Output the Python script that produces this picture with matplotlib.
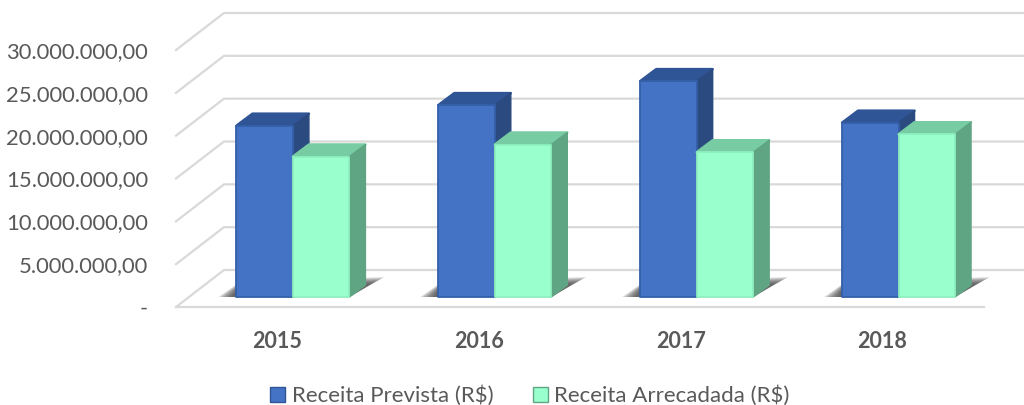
import matplotlib
matplotlib.use("Agg")
import matplotlib.pyplot as plt
from matplotlib.patches import Patch, Polygon

plt.rcParams["font.family"] = ["Lato", "DejaVu Sans"]

years = ["2015", "2016", "2017", "2018"]
prevista = [20000000, 22400000, 25200000, 20350000]
arrecadada = [16400000, 17800000, 16900000, 19000000]
y_ticks = [0, 5000000, 10000000, 15000000, 20000000, 25000000, 30000000]
y_tick_labels = ["-", "5.000.000,00", "10.000.000,00", "15.000.000,00",
                 "20.000.000,00", "25.000.000,00", "30.000.000,00"]
series_names = ["Receita Prevista (R$)", "Receita Arrecadada (R$)"]

W, H = 1024, 405
# front plane of the 3D box, in pixels
LEFT, RIGHT, FLOOR, TOP = 176, 983.5, 307, 50
DEPTH_X, DEPTH_Y = 48, 37

BLUE = ("#4472C4", "#2F5597", "#2A4A80", "#345FA8")
GREEN = ("#99FFCC", "#77CCA3", "#5FA583", "#8DF0BF")
GRID = "#D9D9D9"
TEXT = "#595959"

fig = plt.figure(figsize=(W / 100, H / 100), dpi=100)
ax = fig.add_axes([LEFT / W, 1 - FLOOR / H, (RIGHT - LEFT) / W, (FLOOR - TOP) / H])
ax.set_xlim(-0.5, 3.5)
ax.set_ylim(0, 30000000)
ax.patch.set_visible(False)
for s in ax.spines.values():
    s.set_visible(False)

px_x = 4 / (RIGHT - LEFT)  # data x per pixel
px_y = 30000000 / (FLOOR - TOP)  # data y per pixel


def shift(x, y, dx, dy):
    return (x + dx * px_x, y + dy * px_y)


# walls and floor grid
for v in y_ticks:
    x0, y0 = -0.5, v
    x1, y1 = shift(x0, y0, DEPTH_X, DEPTH_Y)
    ax.plot([x0, x1, 5.0], [y0, y1, y1], color=GRID, lw=1.6, clip_on=False,
            solid_joinstyle="miter", zorder=1)
ax.plot([-0.5, 3.5], [0, 0], color=GRID, lw=1.6, zorder=1, clip_on=False)


def draw_bar(x_left, width, value, cols, z):
    # front face sits slightly inside the box
    p0 = shift(x_left, 0, 16, 10)
    p1 = shift(x_left + width, 0, 16, 10)
    p2 = shift(x_left + width, value, 16, 10)
    p3 = shift(x_left, value, 16, 10)
    top = [p3, p2, shift(p2[0], p2[1], 16, 12), shift(p3[0], p3[1], 16, 12)]
    side = [p1, p2, shift(p2[0], p2[1], 16, 12), shift(p1[0], p1[1], 16, 12)]
    ax.add_patch(Polygon(top, closed=True, fc=cols[1], ec=cols[1], lw=1.8,
                         joinstyle="round", clip_on=False, zorder=z))
    ax.add_patch(Polygon(side, closed=True, fc=cols[2], ec=cols[2], lw=1.0,
                         joinstyle="round", clip_on=False, zorder=z))
    ax.add_patch(Polygon([p0, p1, p2, p3], closed=True, fc=cols[0], ec=cols[3],
                         lw=1.3, joinstyle="round", clip_on=False, zorder=z + 0.1))


def draw_shadow(x_left, width, z):
    # soft floor shadow, built from stacked translucent shapes
    for i in range(8):
        a = shift(x_left, 0, 16 - 18 + i * 2, 10)
        b = shift(x_left + width, 0, 16, 10)
        c = shift(b[0], b[1], 35 - i * 2, 20 - i)
        d = shift(x_left, 0, 16 + 2, 10 + 14 - i * 0.6)
        ax.add_patch(Polygon([a, b, c, d], closed=True, fc="#3A3A3A", ec="none",
                             alpha=0.17, clip_on=False, zorder=z))


bar_w = 56.5 * px_x
for i in range(len(years)):
    draw_shadow(i - bar_w, 2 * bar_w, 2)
    draw_bar(i - bar_w, bar_w, prevista[i], BLUE, 3)
    draw_bar(i, bar_w, arrecadada[i], GREEN, 4)

ax.set_xticks(range(len(years)))
ax.set_xticklabels(years, fontsize=15.5, fontweight="bold", color=TEXT)
ax.set_yticks(y_ticks)
ax.set_yticklabels(y_tick_labels, fontsize=15.8, color=TEXT)
ax.tick_params(axis="both", length=0)
ax.tick_params(axis="x", pad=17)
ax.tick_params(axis="y", pad=20)

handles = [Patch(fc=BLUE[0], ec=BLUE[1]), Patch(fc=GREEN[0], ec=GREEN[2])]
fig.legend(handles, series_names, loc="center", bbox_to_anchor=(530 / W, 1 - 396 / H),
           ncol=2, frameon=False, fontsize=16, labelcolor=TEXT, handlelength=0.65,
           handleheight=0.65, handletextpad=0.3, columnspacing=1.8, borderpad=0)

fig.savefig("out.png", dpi=100)
